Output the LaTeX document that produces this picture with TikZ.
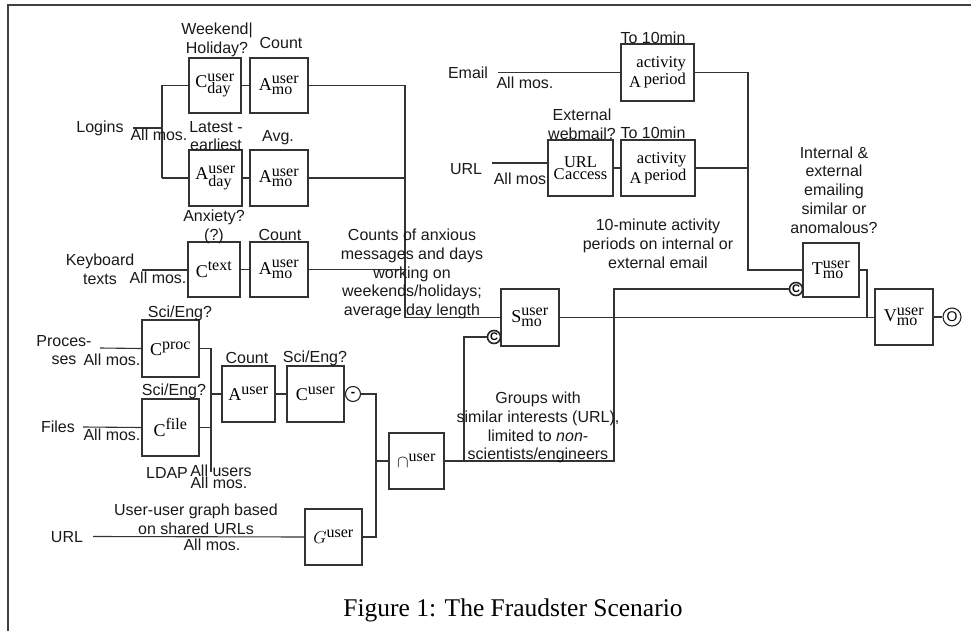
\documentclass[tikz,border=0pt]{standalone}
\usepackage{fontspec}
\setmainfont{Liberation Serif}
\setsansfont{Liberation Sans}
\DeclareMathSizes{18}{18}{16}{12}
\newcommand{\symb}[3]{$\mathrm{#1}^{\mathrm{#2}}_{\mathrm{#3}}$}
\begin{document}
\begin{tikzpicture}[x=1pt,y=-1pt,
  box/.style={draw=black!80, line width=1.1pt, inner sep=0, font=\fontsize{18}{20}\selectfont},
  tbox/.style={draw=black!80, line width=1.1pt, inner sep=0, font=\fontsize{16.5}{18}\selectfont},
  ln/.style={draw=black!80, line width=1.1pt},
  lab/.style={font=\fontsize{16}{18.8}\selectfont\sffamily, inner sep=0, align=center, text=black!90},
  cc/.style={circle, draw=black!85, line width=1.6pt, inner sep=0, minimum size=13pt, font=\fontsize{11}{11}\selectfont\sffamily\bfseries, fill=white},
  mc/.style={circle, draw=black!85, line width=1.1pt, inner sep=0, minimum size=15pt, font=\fontsize{13}{13}\selectfont\sffamily\bfseries, fill=white},
  oc/.style={circle, draw=black!85, line width=1.1pt, inner sep=0, minimum size=18pt, font=\fontsize{14}{14}\selectfont\sffamily, fill=white}]
\useasboundingbox (0,0) rectangle (971,631);
% frame
\draw[draw=black!75, line width=1.5pt] (971,5) -- (8,5) -- (8,631);

% boxes
\node[box, minimum width=52pt, minimum height=55pt] (cday) at (215,85.5) {\symb{C}{user}{day}};
\node[box, minimum width=58pt, minimum height=55pt] (amo1) at (279,85.5) {\symb{A}{user}{mo}};
\node[box, minimum width=53pt, minimum height=56pt] (aday) at (215.5,178) {\symb{A}{user}{day}};
\node[box, minimum width=58pt, minimum height=56pt] (amo2) at (279,178) {\symb{A}{user}{mo}};
\node[box, minimum width=52pt, minimum height=55pt] (ctext) at (214,269.5) {$\mathrm{C}^{\mathrm{text}}$};
\node[box, minimum width=58pt, minimum height=55pt] (amo3) at (279,269.5) {\symb{A}{user}{mo}};
\node[box, minimum width=57pt, minimum height=57pt] (cproc) at (170.5,348.5) {$\mathrm{C}^{\mathrm{proc}}$};
\node[box, minimum width=57pt, minimum height=57pt] (cfile) at (170.5,427.5) {$\mathrm{C}^{\mathrm{file}}$};
\node[box, minimum width=53pt, minimum height=56pt] (auser) at (248.5,394) {$\mathrm{A}^{\mathrm{user}}$};
\node[box, minimum width=57pt, minimum height=56pt] (cuser) at (315.5,394) {$\mathrm{C}^{\mathrm{user}}$};
\node[box, minimum width=55pt, minimum height=56pt] (capu) at (416.5,461) {$\mathord{\cap}^{\mathrm{user}}$};
\node[box, minimum width=57pt, minimum height=56pt] (guser) at (333.5,537) {$G^{\mathrm{user}}$};
\node[box, minimum width=58pt, minimum height=57pt] (smo) at (530,317.5) {\symb{S}{user}{mo}};
\node[tbox, minimum width=73pt, minimum height=57pt, align=right] (aper1) at (657.5,72.5) {activity\\[-1pt]\raisebox{-3pt}{A}\,period};
\node[tbox, minimum width=65pt, minimum height=56pt, align=center, font=\fontsize{16.5}{12}\selectfont] (curl) at (580.5,168) {URL\\C\kern0.5pt access};
\node[tbox, minimum width=74pt, minimum height=56pt, align=right] (aper2) at (658,168) {activity\\[-1pt]\raisebox{-3pt}{A}\,period};
\node[box, minimum width=56pt, minimum height=54pt] (tmo) at (831,270) {\symb{T}{user}{mo}};
\node[box, minimum width=58pt, minimum height=56pt] (vmo) at (904,317) {\symb{V}{user}{mo}};

% circles
\node[mc] (minus) at (353,394) {\raisebox{-2pt}{-}};
\node[cc] (cs) at (494,337) {C};
\node[cc] (ct) at (796,289) {C};
\node[oc] (out) at (952,317) {O};

% coordinates
\coordinate (login) at (133,128);
\coordinate (lj) at (162,128);
\coordinate (kb) at (142,270);
\coordinate (proc) at (100,348);
\coordinate (files) at (83,427);
\coordinate (ldap) at (211,472);
\coordinate (urlg) at (93,536.5);
\coordinate (email) at (498,72.5);
\coordinate (urlc) at (492,163);
\coordinate (mj) at (405,317.5);
\coordinate (ej) at (748,72.5);
\coordinate (tj) at (867,270);

% connectors
\draw[ln] (login) -- (lj);
\draw[ln] (cday.west -| lj) -- (aday.west -| lj);
\draw[ln] (cday.west -| lj) -- (cday.west);
\draw[ln] (aday.west -| lj) -- (aday.west);
\draw[ln] (cday) -- (amo1);
\draw[ln] (aday) -- (amo2);
\draw[ln] (ctext) -- (amo3);
\draw[ln] (kb) -- (ctext.west |- kb);
\draw[ln] (amo1.east) -- (amo1.east -| mj) -- (mj) -- (smo.west);
\draw[ln] (amo2.east) -- (amo2.east -| mj);
\draw[ln] (amo3.east) -- (amo3.east -| mj);
\draw[ln] (proc) -- (cproc.west);
\draw[ln] (files) -- (cfile.west);
\draw[ln] (cproc.east) -- (cproc.east -| ldap) -- (ldap);
\draw[ln] (cfile.east) -- (cfile.east -| ldap);
\draw[ln] (auser.west -| ldap) -- (auser.west);
\draw[ln] (auser) -- (cuser);
\draw[ln] (cuser) -- (minus);
\draw[ln] (minus.east) -- (376,394) -- (376,537) -- (guser.east);
\draw[ln] (376,461) -- (capu.west);
\draw[ln] (urlg) -- (guser.west);
\draw[ln] (capu.east) -- (464,461) -- (464,337) -- (cs.west);
\draw[ln] (464,461) -- (614,461) -- (614,289) -- (ct.west);
\draw[ln] (smo.east) -- (smo.east -| vmo.west);
\draw[ln] (tmo.east) -- (tj) -- (tj |- vmo.west);
\draw[ln] (vmo) -- (out);
\draw[ln] (email) -- (aper1.west);
\draw[ln] (aper1.east) -- (ej) -- (ej |- tmo.west) -- (tmo.west);
\draw[ln] (aper2.east) -- (aper2.east -| ej);
\draw[ln] (urlc) -- (urlc -| curl.west);
\draw[ln] (curl) -- (aper2);

% labels
\node[lab] (l1) at (217,40) {Weekend|\\Holiday?};
\node[lab] (l2) at (281,43) {Count};
\node[lab] (l3) at (216,136) {Latest -\\earliest};
\node[lab] (l4) at (278,138) {Avg.};
\node[lab] (l5) at (214,227) {Anxiety?\\(?)};
\node[lab] (l6) at (280,235) {Count};
\node[lab] (l7) at (100,128) {Logins};
\node[lab] (l8) at (159,135) {All mos.};
\node[lab] (l9) at (100,269) {Keyboard\\texts};
\node[lab] (l10) at (158,278) {All mos.};
\node[lab] (l11) at (180,313) {Sci/Eng?};
\node[lab] (l12) at (64,350) {Proces-\\ses};
\node[lab] (l13) at (112,360) {All mos.};
\node[lab] (l14) at (174,391) {Sci/Eng?};
\node[lab] (l15) at (58,427) {Files};
\node[lab] (l16) at (112,435) {All mos.};
\node[lab] (l17) at (247,358) {Count};
\node[lab] (l18) at (315,358) {Sci/Eng?};
\node[lab] (l19) at (167,473) {LDAP};
\node[lab] (l20) at (221,471) {All users};
\node[lab] (l21) at (219,483) {All mos.};
\node[lab] (l22) at (67,537) {URL};
\node[lab] (l23) at (196,519) {User-user graph based\\on shared URLs};
\node[lab] (l24) at (212,545) {All mos.};
\node[lab] (l25) at (412,274) {Counts of anxious\\messages and days\\working on\\weekends/holidays;\\average day length};
\node[lab] (l26) at (538,427.5) {Groups with\\similar interests (URL),\\limited to \textit{non}-\\scientists/engineers};
\node[lab] (l27) at (658,244) {10-minute activity\\periods on internal or\\external email};
\node[lab] (l28) at (834,190) {Internal \&\\external\\emailing\\similar or\\anomalous?};
\node[lab] (l29) at (468,73) {Email};
\node[lab] (l30) at (525,83) {All mos.};
\node[lab] (l31) at (653,38) {To 10min};
\node[lab] (l32) at (582,124.5) {External\\webmail?};
\node[lab] (l33) at (653,133) {To 10min};
\node[lab] (l34) at (466,169) {URL};
\node[lab] (l35) at (520,179) {All mos};
\node[font=\fontsize{25.5}{28}\selectfont, inner sep=0] (cap) at (513,610) {Figure 1: The Fraudster Scenario};
\end{tikzpicture}
\end{document}
